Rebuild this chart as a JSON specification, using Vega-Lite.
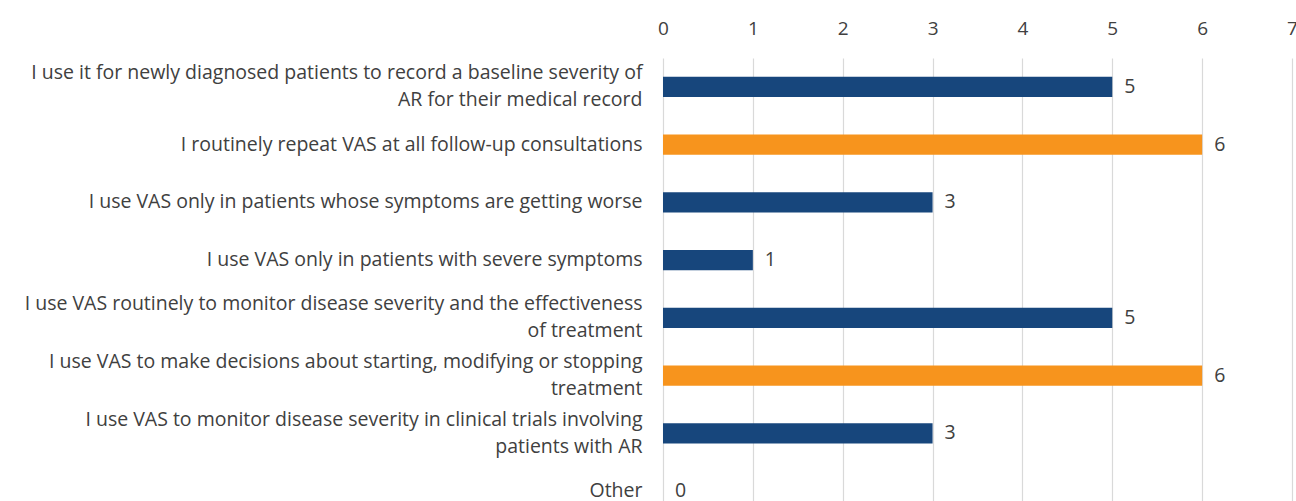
{
  "$schema": "https://vega.github.io/schema/vega-lite/v6.json",
  "autosize": "none",
  "width": 629,
  "height": 462,
  "padding": {"left": 663, "top": 58, "right": 4, "bottom": 0},
  "background": "white",
  "config": {
    "view": {"stroke": null},
    "font": "Open Sans"
  },
  "data": {
    "values": [
      {"label": "I use it for newly diagnosed patients to record a baseline severity of|AR for their medical record", "count": 5},
      {"label": "I routinely repeat VAS at all follow-up consultations", "count": 6},
      {"label": "I use VAS only in patients whose symptoms are getting worse", "count": 3},
      {"label": "I use VAS only in patients with severe symptoms", "count": 1},
      {"label": "I use VAS routinely to monitor disease severity and the effectiveness|of treatment", "count": 5},
      {"label": "I use VAS to make decisions about starting, modifying or stopping|treatment", "count": 6},
      {"label": "I use VAS to monitor disease severity in clinical trials involving|patients with AR", "count": 3},
      {"label": "Other", "count": 0}
    ]
  },
  "encoding": {
    "y": {
      "field": "label", "type": "nominal", "sort": null,
      "scale": {"paddingInner": 0.65, "paddingOuter": 0.325},
      "axis": {
        "title": null, "domain": false, "ticks": false,
        "labelExpr": "split(datum.label, '|')",
        "labelFont": "Open Sans", "labelFontSize": 19.5, "labelColor": "#404040",
        "labelPadding": 21, "labelLimit": 700, "labelLineHeight": 27,
        "labelOffset": {"condition": {"test": "indexof(datum.value, '|') >= 0", "value": -13.5}, "value": 0}
      }
    },
    "x": {
      "field": "count", "type": "quantitative",
      "scale": {"domain": [0, 7], "nice": false},
      "axis": {
        "orient": "top", "title": null, "domain": false, "ticks": false,
        "values": [0, 1, 2, 3, 4, 5, 6, 7],
        "labelFont": "Open Sans", "labelFontSize": 19, "labelColor": "#404040",
        "labelPadding": 20, "labelFlush": false,
        "grid": true, "gridColor": "#D9D9D9", "gridWidth": 1.2
      }
    }
  },
  "layer": [
    {
      "mark": {"type": "bar"},
      "encoding": {
        "color": {"condition": {"test": "datum.count == 6", "value": "#F7941D"}, "value": "#17467C"}
      }
    },
    {
      "mark": {"type": "text", "align": "left", "baseline": "middle", "dx": 12, "fontSize": 19.5, "color": "#404040", "font": "Open Sans"},
      "encoding": {"text": {"field": "count", "type": "quantitative"}}
    }
  ]
}
